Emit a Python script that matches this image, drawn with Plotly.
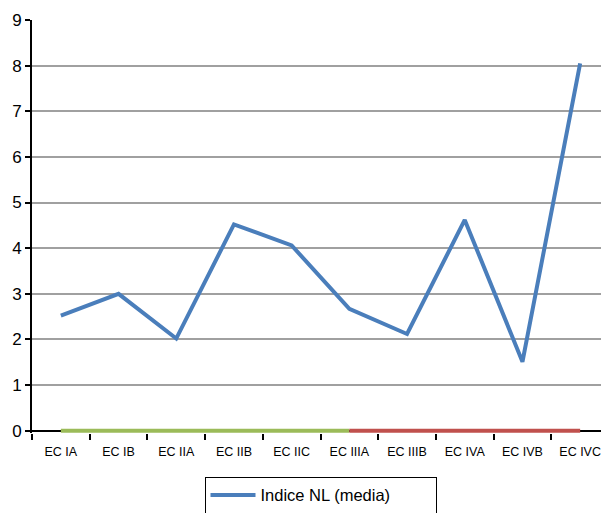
import plotly.graph_objects as go

categories = ["EC IA", "EC IB", "EC IIA", "EC IIB", "EC IIC", "EC IIIA",
              "EC IIIB", "EC IVA", "EC IVB", "EC IVC"]
indice_nl = [2.52, 3.0, 2.02, 4.52, 4.06, 2.67, 2.12, 4.62, 1.51, 8.05]
green_band = [0, 0, 0, 0, 0, 0, None, None, None, None]
red_band = [None, None, None, None, None, 0, 0, 0, 0, 0]
y_ticks = list(range(0, 10))

FONT = "Liberation Sans, Arial, sans-serif"

fig = go.Figure()
fig.add_trace(go.Scatter(x=categories, y=green_band, mode="lines",
                         line=dict(color="#9BBB59", width=4),
                         showlegend=False, hoverinfo="skip"))
fig.add_trace(go.Scatter(x=categories, y=red_band, mode="lines",
                         line=dict(color="#C0504D", width=4),
                         showlegend=False, hoverinfo="skip"))
fig.add_trace(go.Scatter(x=categories, y=indice_nl, mode="lines",
                         name="Indice NL (media)",
                         line=dict(color="#4A7EBB", width=4)))

fig.update_layout(
    width=601, height=505,
    margin=dict(l=24, r=0, t=12, b=80, autoexpand=False),
    paper_bgcolor="white", plot_bgcolor="white",
    font=dict(family=FONT, color="black"),
    showlegend=True,
    legend=dict(orientation="h", x=0.5, xanchor="center", y=-0.106, yanchor="top",
                bordercolor="black", borderwidth=1,
                font=dict(size=16.5, family=FONT),
                itemwidth=45, entrywidth=170),
)
fig.update_xaxes(
    type="category", range=[-0.5, 9.5], showgrid=False, showline=False, zeroline=False,
    ticks="outside", tickson="boundaries", ticklen=6, tickwidth=1.5,
    tickcolor="black", tickfont=dict(size=12.5, family=FONT),
    ticklabelstandoff=9, automargin=False,
)
fig.update_yaxes(
    range=[-0.05, 9], tickvals=y_ticks, showgrid=True, gridcolor="#A0A0A0",
    gridwidth=1.5, showline=True, linecolor="black", linewidth=2,
    zeroline=True, zerolinecolor="black", zerolinewidth=2,
    ticks="outside", ticklen=5, tickwidth=1.5, tickcolor="black",
    tickfont=dict(size=17, family=FONT), automargin=False,
)

fig.write_html("out.html")
